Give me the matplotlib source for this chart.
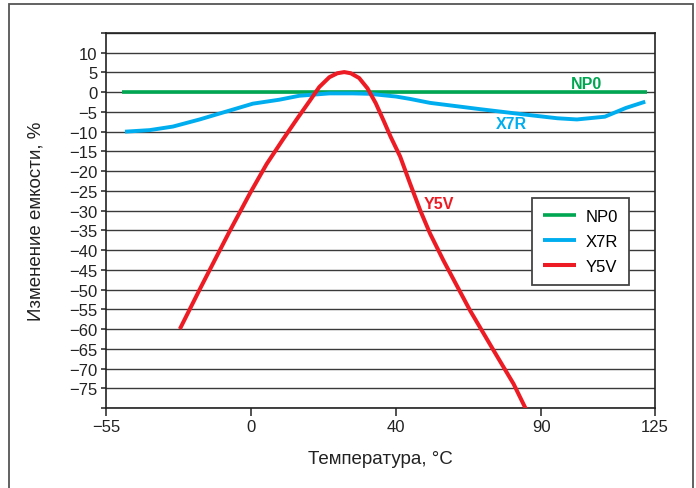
import numpy as np
import matplotlib
matplotlib.use("Agg")
import matplotlib.pyplot as plt
from matplotlib.patches import Rectangle
from matplotlib.ticker import FixedLocator, FuncFormatter

plt.rcParams['font.family'] = ['Liberation Sans', 'DejaVu Sans']

# temperature ticks (axis is not linear in the original: equal steps between -55, 0, 40, 90)
tick_temps = [-55, 0, 40, 90, 125]
tick_steps = [0, 1, 2, 3, 3.785]

# capacitance change, %
np0_t = [-49, 122.5]
np0_v = [0, 0]

x7r_t = [-47.8, -38.4, -29.6, -19.5, -9.4, 0.5, 7.8, 13.3, 21.6, 28, 32.6, 40, 44.8, 51.7, 69, 86,
         95, 101, 109.6, 116, 122]
x7r_v = [-10, -9.6, -8.7, -6.9, -4.9, -2.9, -1.9, -0.9, -0.3, -0.3, -0.4, -1.1, -1.7, -2.7, -4.3, -5.8,
         -6.6, -6.9, -6.2, -4.0, -2.4]

y5v_t = [-27, -19.5, -13.2, -8.1, -0.4, 4.3, 8.7, 12.8, 16.1, 18.8, 21.6, 23.8, 25.7, 27.5, 29.8,
         32.1, 34.4, 36.7, 38.5, 41.4, 44.8, 48.3, 51.7, 56.3, 65.5, 73.6, 80.5, 84.7]
y5v_v = [-60, -50, -41.8, -35.2, -25.6, -18.2, -12.1, -6.6, -2.3, 1.3, 3.8, 4.8, 5.1, 4.8, 3.6,
         1.0, -2.8, -7.5, -11.3, -16.3, -23.1, -29.9, -35.8, -42.6, -55.3, -65.4, -73.9, -80.2]

green = '#00a651'
blue = '#00aeef'
red = '#ed1c24'


def fwd(t):
    return np.interp(np.asarray(t, float), tick_temps, tick_steps)


def inv(p):
    return np.interp(np.asarray(p, float), tick_steps, tick_temps)


fig = plt.figure(figsize=(6.96, 4.89), dpi=100)
ax = fig.add_axes([106 / 696, 1 - 409 / 489, 549 / 696, 375 / 489])
ax.set_xscale('function', functions=(fwd, inv))

ax.plot(np0_t, np0_v, color=green, lw=2.6, solid_capstyle='butt', label='NP0', zorder=3)
ax.plot(x7r_t, x7r_v, color=blue, lw=2.8, solid_capstyle='butt', solid_joinstyle='round',
        label='X7R', zorder=3)
ax.plot(y5v_t, y5v_v, color=red, lw=2.9, solid_capstyle='butt', solid_joinstyle='round',
        label='Y5V', zorder=4)

ax.set_xlim(-55, 125)
ax.set_ylim(-80, 15)
ax.xaxis.set_major_locator(FixedLocator(tick_temps))
ax.xaxis.set_major_formatter(FuncFormatter(lambda v, p: f"{v:.0f}".replace('-', '\u2212')))
ax.xaxis.set_minor_locator(FixedLocator([]))
ax.yaxis.set_major_locator(FixedLocator(np.arange(-80, 16, 5)))
ax.yaxis.set_major_formatter(FuncFormatter(
    lambda v, p: '' if v in (-80, 15) else f"{v:.0f}".replace('-', '\u2212')))
ax.grid(axis='y', color='#3a3a3a', lw=1.0, zorder=1)

for s in ax.spines.values():
    s.set_color('#222222')
    s.set_linewidth(1.2)
ax.tick_params(axis='x', direction='out', length=5.5, width=1.1, color='#222222',
               labelsize=12, pad=2.5, labelcolor='#222222')
ax.tick_params(axis='y', direction='out', length=3.5, width=1.1, color='#222222',
               labelsize=12, pad=2.5, labelcolor='#222222')

ax.set_xlabel('Температура, °C', fontsize=13.5, color='#222222')
ax.set_ylabel('Изменение емкости, %', fontsize=13.5, color='#222222')
ax.xaxis.set_label_coords(0.5, (409 - 451) / 375)
ax.yaxis.set_label_coords((45 - 106) / 549, 0.5)

# curve labels
ax.text(103.8, 2.2, 'NP0', color=green, fontsize=11.5, fontweight='bold', ha='center', va='center')
ax.text(79.7, -8.0, 'X7R', color=blue, fontsize=11.5, fontweight='bold', ha='center', va='center')
ax.text(54.7, -28.1, 'Y5V', color=red, fontsize=11.5, fontweight='bold', ha='center', va='center')

leg = ax.legend(loc='upper left', bbox_to_anchor=((532 - 106) / 549, (409 - 199) / 375),
                fontsize=12, frameon=True, fancybox=False, handlelength=2.0,
                labelspacing=0.6, borderpad=0.65, handletextpad=0.55, borderaxespad=0)
leg.get_frame().set_edgecolor('#444444')
leg.get_frame().set_linewidth(1.3)
leg.get_frame().set_alpha(1)

# outer frame around the figure
fig.patches.append(Rectangle((9 / 696, -0.02), (693 - 9) / 696, 1.02 - 5 / 489,
                             transform=fig.transFigure, fill=False, ec='#555555', lw=1.3))

fig.savefig('out.png', dpi=100)
